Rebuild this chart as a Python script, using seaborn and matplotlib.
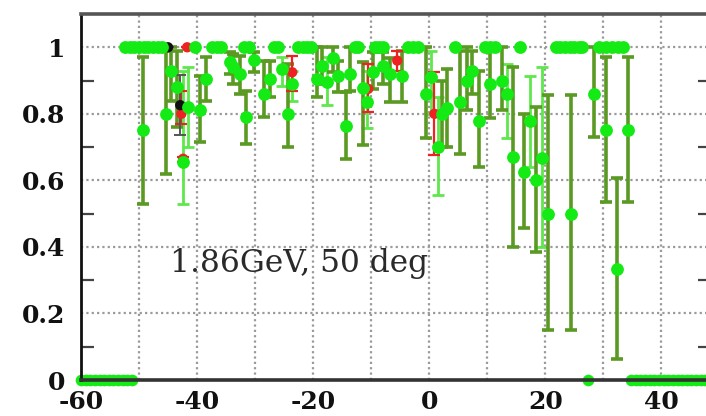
import numpy as np
import pandas as pd
import matplotlib
matplotlib.use("Agg")
import matplotlib.pyplot as plt
import seaborn as sns

# ---- data -------------------------------------------------------------
# bins where the efficiency is exactly 1 (no visible error bar)
ones_x = [-52.4, -51.6, -50.8, -50.0, -49.2, -48.4, -47.6, -46.8, -46.0,
          -40.3, -37.4, -36.6, -35.8, -31.9, -31.1, -26.7, -26.0,
          -22.6, -21.8, -21.0, -20.4, -12.8, -12.2, -9.4, -8.7, -8.0,
          -3.6, -2.7, -1.9, 4.5, 9.7, 10.5, 11.3, 15.6,
          21.8, 22.6, 23.4, 24.2, 25.0, 25.8, 26.4,
          29.3, 30.4, 31.5, 32.6, 33.4]

# bins outside the acceptance (efficiency 0)
zeros_x = [-60.0, -59.2, -58.4, -57.6, -56.8, -56.0, -55.2, -54.4, -53.6,
           -52.8, -52.0, -51.2, 27.4,
           34.8, 35.6, 36.4, 37.2, 38.0, 38.8, 39.6, 40.4, 41.2, 42.0,
           42.8, 43.6, 44.4, 45.2, 46.0, 46.8, 47.6, 48.4]

# main sample: value with lower / upper ends of the error bar
main_x = [-49.3, -45.4, -44.5, -43.4, -39.5, -38.4, -34.3, -33.8, -32.6,
          -31.6, -30.1, -28.5, -27.5, -24.3, -19.3, -18.4, -16.6, -15.7,
          -14.3, -13.6, -11.4, -9.7, -7.9, -6.7, -4.7, -0.5, 2.2, 3.1,
          5.3, 6.6, 7.4, 8.6, 10.5, 12.6, 14.4, 16.3, 18.4, 20.5, 24.4,
          28.4, 30.5, 32.4, 34.3]
main_y = [0.75, 0.80, 0.93, 0.88, 0.81, 0.905, 0.955, 0.94, 0.92,
          0.79, 0.963, 0.86, 0.905, 0.80, 0.905, 0.945, 0.967, 0.915,
          0.763, 0.92, 0.877, 0.925, 0.945, 0.92, 0.915, 0.86, 0.80, 0.817,
          0.835, 0.90, 0.928, 0.778, 0.89, 0.90, 0.67, 0.625, 0.60, 0.50, 0.50,
          0.86, 0.75, 0.333, 0.75]
main_lo = [0.53, 0.62, 0.84, 0.76, 0.715, 0.84, 0.92, 0.89, 0.86,
           0.71, 0.925, 0.79, 0.85, 0.70, 0.85, 0.89, 0.925, 0.865,
           0.663, 0.87, 0.705, 0.875, 0.89, 0.835, 0.835, 0.727, 0.70, 0.70,
           0.68, 0.81, 0.86, 0.64, 0.787, 0.81, 0.40, 0.456, 0.384, 0.15, 0.15,
           0.73, 0.535, 0.063, 0.535]
main_hi = [0.97, 0.99, 1.0, 0.99, 0.915, 0.97, 0.985, 0.98, 0.975,
           0.87, 0.985, 0.96, 0.96, 0.95, 1.0, 1.0, 1.0, 0.96,
           0.865, 1.0, 0.955, 0.985, 0.985, 0.967, 0.99, 1.0, 0.90, 0.934,
           0.99, 1.0, 0.99, 0.93, 1.0, 1.0, 0.94, 0.80, 0.82, 0.856, 0.856,
           1.0, 0.97, 0.607, 0.97]

# second sample (light green bars)
alt_x = [-42.4, -41.6, -25.3, -23.6, -17.6, -10.7, 0.3, 1.6, 13.5, 17.4, 19.5]
alt_y = [0.655, 0.82, 0.935, 0.89, 0.895, 0.835, 0.91, 0.70, 0.86, 0.778, 0.667]
alt_lo = [0.53, 0.70, 0.885, 0.84, 0.826, 0.757, 0.80, 0.555, 0.727, 0.64, 0.40]
alt_hi = [0.93, 0.94, 0.97, 0.93, 0.97, 0.93, 0.99, 0.85, 0.95, 0.915, 0.94]

# third sample (red)
red_x = [-41.7, -42.7, -42.4, -23.6, -10.5, -5.5, 0.9]
red_y = [1.0, 0.80, 0.665, 0.925, 0.875, 0.96, 0.80]
red_lo = [1.0, 0.77, 0.655, 0.87, 0.805, 0.93, 0.676]
red_hi = [1.0, 0.87, 0.67, 0.975, 0.95, 0.99, 0.925]

# fourth sample (black)
blk_x = [-45.0, -42.9]
blk_y = [1.0, 0.826]
blk_lo = [1.0, 0.736]
blk_hi = [1.0, 0.916]

x_ticks = [-60, -40, -20, 0, 20, 40]
x_tick_labels = ["-60", "-40", "-20", "0", "20", "40"]
y_ticks = [0, 0.2, 0.4, 0.6, 0.8, 1.0]
y_tick_labels = ["0", "0.2", "0.4", "0.6", "0.8", "1"]
label_text = "1.86GeV, 50 deg"

# ---- styling ----------------------------------------------------------
sns.set_theme(style="white")
plt.rcParams["axes.unicode_minus"] = False
plt.rcParams["font.family"] = ["DejaVu Serif"]

DOT = "#14ea14"
OLIVE = "#5a9a22"
LIGHT = "#5ee84c"
RED = "#ee2222"

fig = plt.figure(figsize=(7.06, 4.16), dpi=100)
ax = fig.add_axes([81 / 706, 36 / 416, 629 / 706, 366 / 416])
ax.set_xlim(-60, 48.4)
ax.set_ylim(0, 1.1)


def bars(ax, x, y, lo, hi, color, lw, z):
    y = np.asarray(y)
    err = np.vstack([y - np.asarray(lo), np.asarray(hi) - y])
    ax.errorbar(x, y, yerr=err, fmt="none", ecolor=color, elinewidth=lw,
                capsize=4.4, capthick=lw, zorder=z)


bars(ax, alt_x, alt_y, alt_lo, alt_hi, LIGHT, 2.0, 3)
bars(ax, main_x, main_y, main_lo, main_hi, OLIVE, 2.6, 3.2)
bars(ax, red_x, red_y, red_lo, red_hi, RED, 1.6, 3.4)
bars(ax, blk_x, blk_y, blk_lo, blk_hi, "#555555", 1.4, 3.4)

pts = pd.concat([
    pd.DataFrame({"x": red_x, "y": red_y, "s": "red"}),
    pd.DataFrame({"x": blk_x, "y": blk_y, "s": "black"}),
])
sns.scatterplot(data=pts, x="x", y="y", hue="s",
                palette={"red": RED, "black": "#111111"},
                s=55, linewidth=0, legend=False, ax=ax, zorder=3.5)

green = pd.concat([
    pd.DataFrame({"x": main_x, "y": main_y}),
    pd.DataFrame({"x": alt_x, "y": alt_y}),
    pd.DataFrame({"x": ones_x, "y": np.ones(len(ones_x))}),
])
sns.scatterplot(data=green, x="x", y="y", color=DOT, s=85, linewidth=0,
                legend=False, ax=ax, zorder=4)

zero_pts = pd.DataFrame({"x": zeros_x, "y": np.zeros(len(zeros_x))})
sns.scatterplot(data=zero_pts, x="x", y="y", color=DOT, s=70, linewidth=0,
                legend=False, ax=ax, zorder=2, clip_on=False)

ax.text(-44.7, 0.325, label_text, fontsize=22.5, color="#2a2a2a",
        family="DejaVu Serif", ha="left", va="baseline", zorder=5)

# ---- axes -------------------------------------------------------------
ax.set_xticks(x_ticks)
ax.set_xticklabels(x_tick_labels)
ax.set_xticks(np.arange(-50, 48, 10), minor=True)
ax.set_yticks(y_ticks)
ax.set_yticklabels(y_tick_labels)
ax.set_yticks(np.arange(0.1, 1.1, 0.2), minor=True)

for lab in ax.get_xticklabels() + ax.get_yticklabels():
    lab.set_fontweight("bold")
    lab.set_fontsize(18)
    lab.set_color("#111111")

ax.tick_params(axis="x", which="both", length=0, pad=7)
ax.tick_params(axis="y", which="major", length=0, pad=11)
ax.tick_params(axis="y", which="minor", direction="in", length=9,
               width=1.6, color="#444444", left=True, right=True)

grid_kw = dict(color="#9a9a9a", linewidth=1.6, linestyle=(0, (1.0, 1.4)))
ax.xaxis.grid(True, which="both", **grid_kw)
ax.yaxis.grid(True, which="major", **grid_kw)
ax.set_axisbelow(True)

ax.set_xlabel("")
ax.set_ylabel("")
for side, col, lw in [("left", "#111111", 2.0), ("bottom", "#333333", 2.6),
                      ("top", "#555555", 2.6), ("right", "#555555", 2.6)]:
    ax.spines[side].set_color(col)
    ax.spines[side].set_linewidth(lw)
    ax.spines[side].set_visible(True)
    ax.spines[side].set_zorder(2.5)

fig.savefig("out.png", dpi=100)
